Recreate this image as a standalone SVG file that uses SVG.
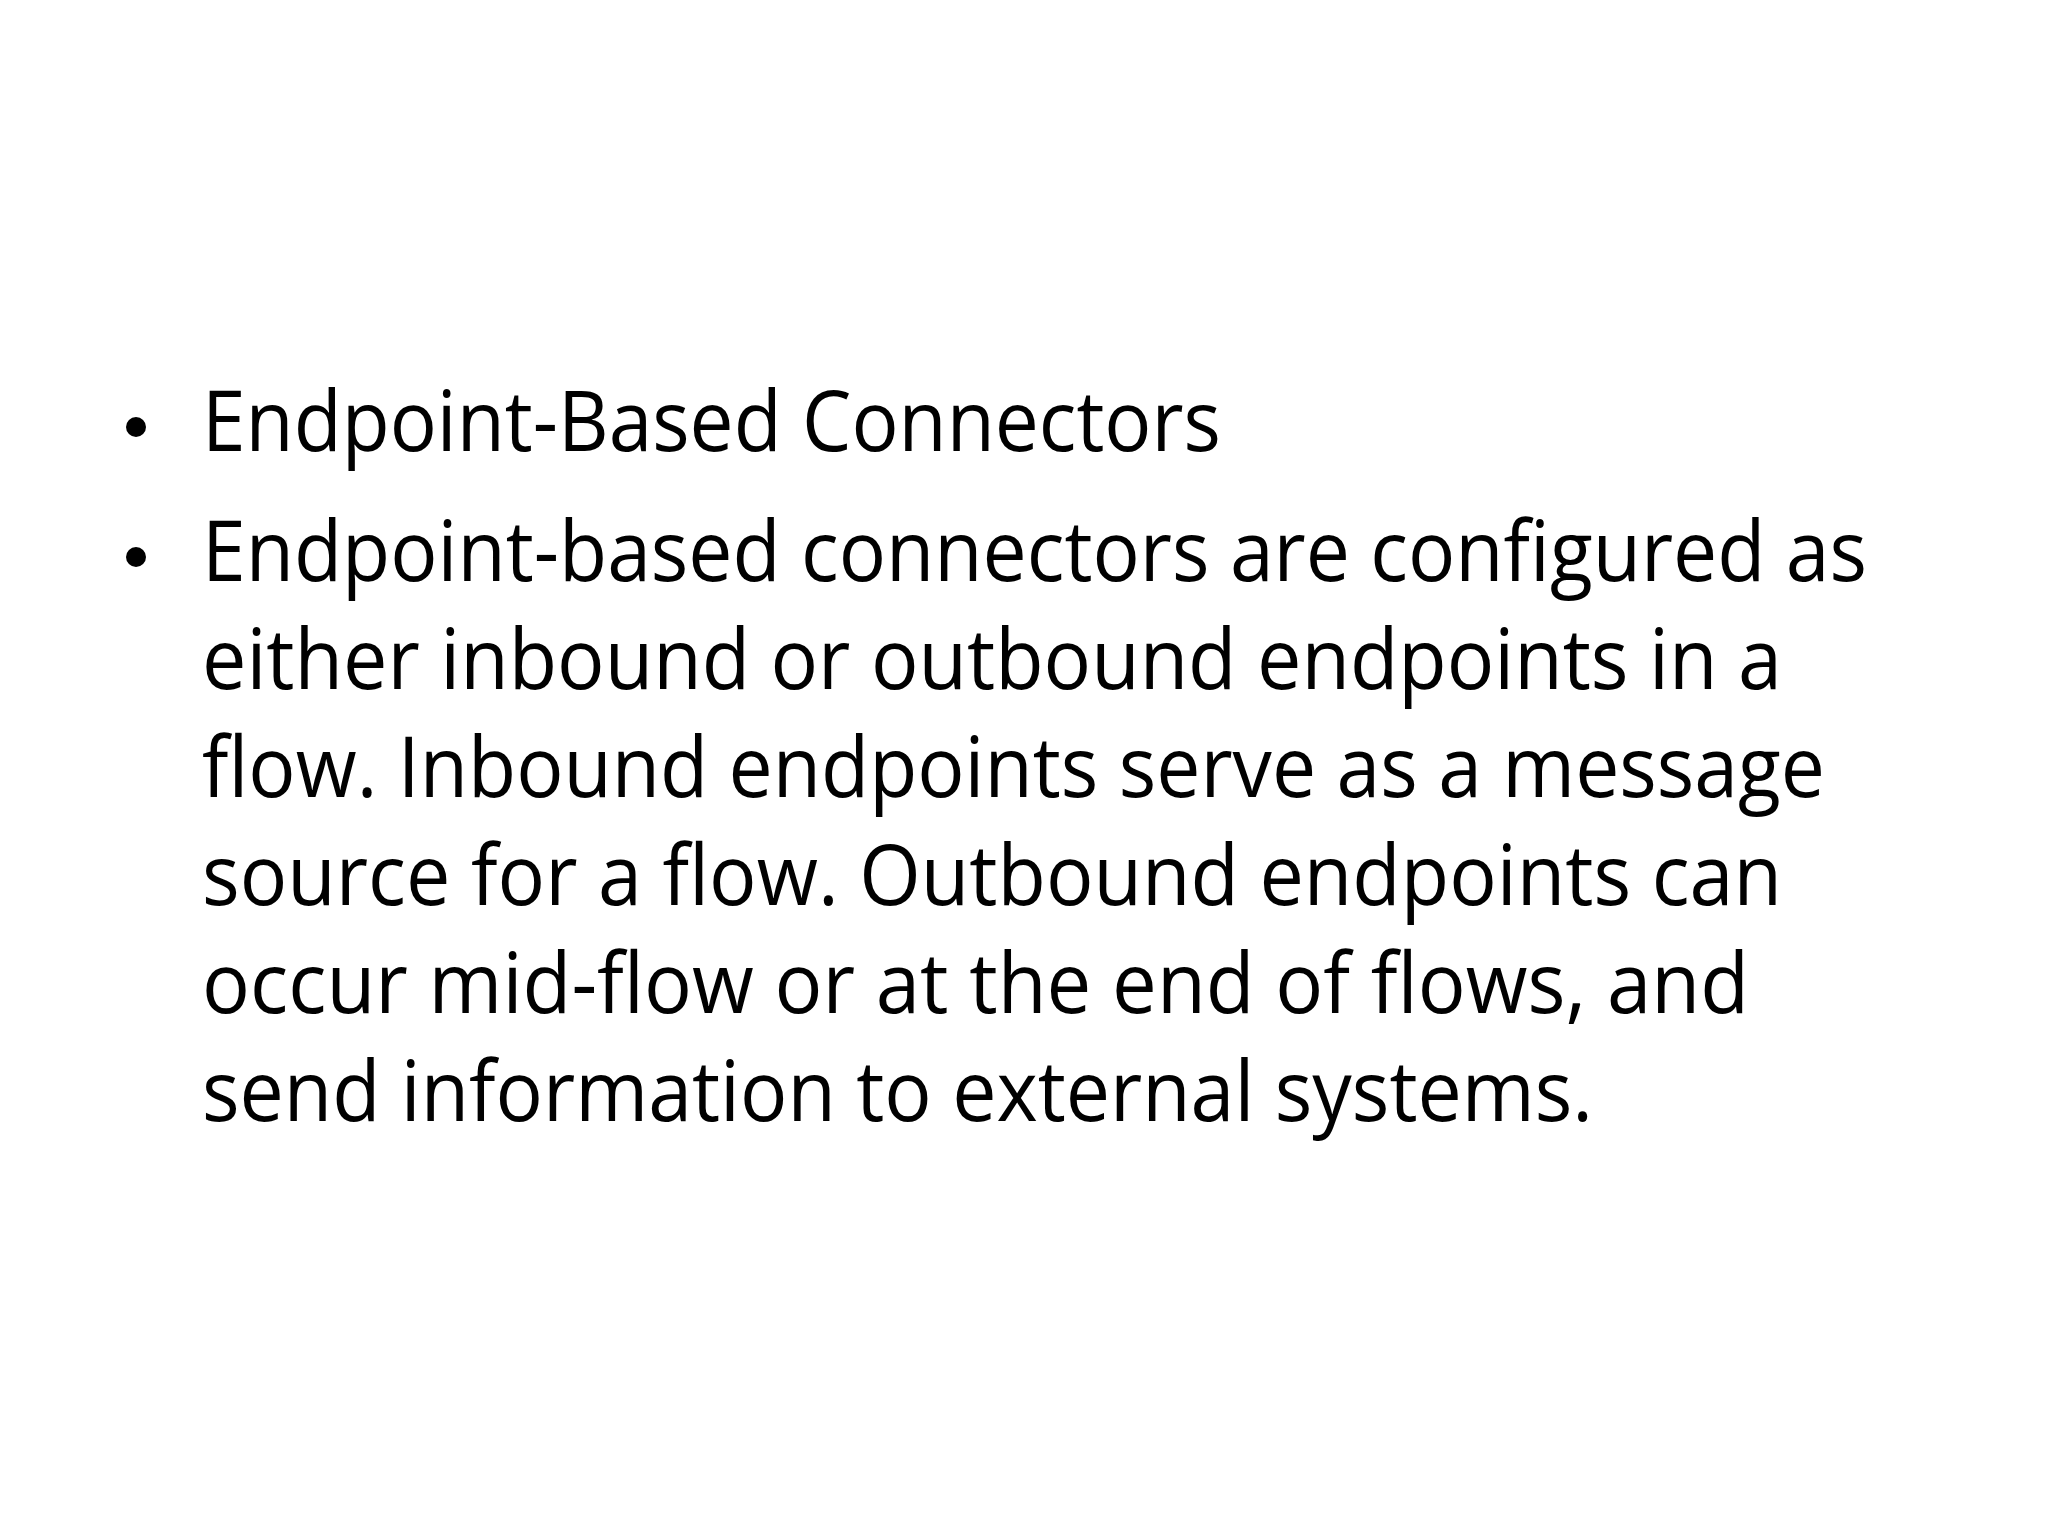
<svg xmlns="http://www.w3.org/2000/svg" width="2048" height="1536" viewBox="0 0 2048 1536">
<style>
text{font-family:"Open Sans","Liberation Sans",sans-serif;font-size:84px;fill:#000}
</style>
<rect width="2048" height="1536" fill="#fff"/>
<g id="bullet1">
<circle cx="136" cy="427" r="10" fill="#000"/>
<text x="202" y="451" textLength="1019" lengthAdjust="spacingAndGlyphs">Endpoint-Based Connectors</text>
</g>
<g id="bullet2">
<circle cx="136" cy="557" r="10" fill="#000"/>
<text x="202" y="581" textLength="1665" lengthAdjust="spacingAndGlyphs">Endpoint-based connectors are configured as</text>
<text x="202" y="689" textLength="1580" lengthAdjust="spacingAndGlyphs">either inbound or outbound endpoints in a</text>
<text x="202" y="797" textLength="1623" lengthAdjust="spacingAndGlyphs">flow. Inbound endpoints serve as a message</text>
<text x="202" y="905" textLength="1580" lengthAdjust="spacingAndGlyphs">source for a flow. Outbound endpoints can</text>
<text x="202" y="1013" textLength="1547" lengthAdjust="spacingAndGlyphs">occur mid-flow or at the end of flows, and</text>
<text x="202" y="1121" textLength="1391" lengthAdjust="spacingAndGlyphs">send information to external systems.</text>
</g>
</svg>
